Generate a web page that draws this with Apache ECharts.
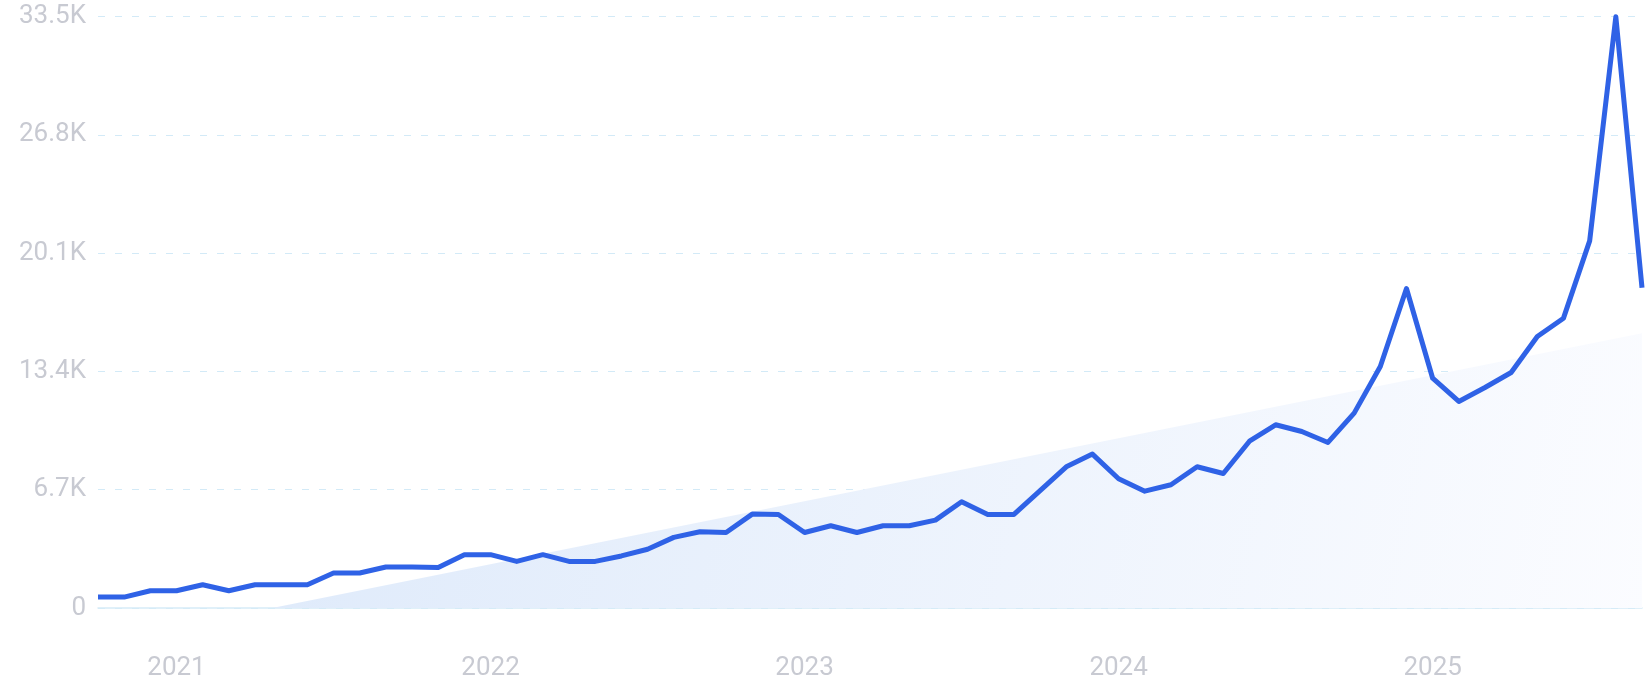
<!DOCTYPE html>
<html>
<head>
<meta charset="utf-8">
<script src="https://cdn.jsdelivr.net/npm/echarts@6/dist/echarts.min.js"></script>
<style>
html,body{margin:0;padding:0;background:#fff;}
#chart{width:1646px;height:700px;}
</style>
</head>
<body>
<div id="chart"></div>
<script>
// Monthly categories Oct 2020 .. Sep 2025
const categories = [
  '2020-10','2020-11','2020-12',
  '2021-01','2021-02','2021-03','2021-04','2021-05','2021-06','2021-07','2021-08','2021-09','2021-10','2021-11','2021-12',
  '2022-01','2022-02','2022-03','2022-04','2022-05','2022-06','2022-07','2022-08','2022-09','2022-10','2022-11','2022-12',
  '2023-01','2023-02','2023-03','2023-04','2023-05','2023-06','2023-07','2023-08','2023-09','2023-10','2023-11','2023-12',
  '2024-01','2024-02','2024-03','2024-04','2024-05','2024-06','2024-07','2024-08','2024-09','2024-10','2024-11','2024-12',
  '2025-01','2025-02','2025-03','2025-04','2025-05','2025-06','2025-07','2025-08','2025-09'
];
const volume = [
  620, 620, 980,
  980, 1320, 980, 1320, 1320, 1320, 1980, 1980, 2320, 2320, 2300, 3020,
  3020, 2640, 3020, 2640, 2640, 2950, 3330, 4000, 4320, 4280, 5320, 5300,
  4280, 4660, 4280, 4660, 4660, 4980, 6020, 5300, 5300, 6650, 8000, 8720,
  7320, 6620, 6980, 8000, 7620, 9450, 10380, 10000, 9380, 11040, 13680, 18100,
  13020, 11700, 12490, 13340, 15380, 16420, 20800, 33500, 18150
];
// Trend line end points: [category index, value]
const trendStart = [0, -1980];
const trendEnd = [59, 15570];
const yTickValues = [0, 6700, 13400, 20100, 26800, 33500];
const yTickLabels = ['0', '6.7K', '13.4K', '20.1K', '26.8K', '33.5K'];

const labelFont = 'Roboto, "Noto Sans", sans-serif';
const labelColor = '#c8cad2';

const chart = echarts.init(document.getElementById('chart'), null, {renderer: 'canvas'});
chart.setOption({
  animation: false,
  backgroundColor: '#ffffff',
  grid: {left: 98, right: 4, top: 16.7, bottom: 92, containLabel: false},
  xAxis: {
    type: 'category',
    data: categories,
    boundaryGap: false,
    axisLine: {show: true, lineStyle: {color: '#d6ecf8', width: 1.5}},
    axisTick: {show: false},
    splitLine: {show: false},
    axisLabel: {
      interval: function (i, v) { return v.slice(5) === '01'; },
      formatter: function (v) { return v.slice(0, 4); },
      color: labelColor,
      fontFamily: labelFont,
      fontWeight: 400,
      fontSize: 26,
      margin: 47
    }
  },
  yAxis: {
    type: 'value',
    min: 0,
    max: 33500,
    interval: 6700,
    axisLine: {show: false},
    axisTick: {show: false},
    splitLine: {show: true, lineStyle: {color: '#d3eaf7', width: 1.2, type: [7, 10]}},
    axisLabel: {
      formatter: function (v) {
        const i = yTickValues.indexOf(v);
        return i >= 0 ? yTickLabels[i] : '';
      },
      color: labelColor,
      fontFamily: labelFont,
      fontWeight: 400,
      fontSize: 26,
      margin: 12
    }
  },
  series: [
    {
      type: 'line',
      name: 'trend',
      data: [trendStart, trendEnd],
      symbol: 'none',
      clip: true,
      silent: true,
      lineStyle: {width: 0, opacity: 0},
      areaStyle: {
        opacity: 1,
        color: {
          type: 'linear', x: 0, y: 0, x2: 1, y2: 1,
          colorStops: [
            {offset: 0, color: '#dbe8fa'},
            {offset: 1, color: '#fbfcff'}
          ]
        }
      },
      z: 1
    },
    {
      type: 'line',
      name: 'volume',
      data: volume,
      symbol: 'none',
      smooth: false,
      clip: false,
      lineStyle: {color: '#2f62e6', width: 5, join: 'round', cap: 'butt'},
      z: 3
    }
  ]
});
</script>
</body>
</html>
